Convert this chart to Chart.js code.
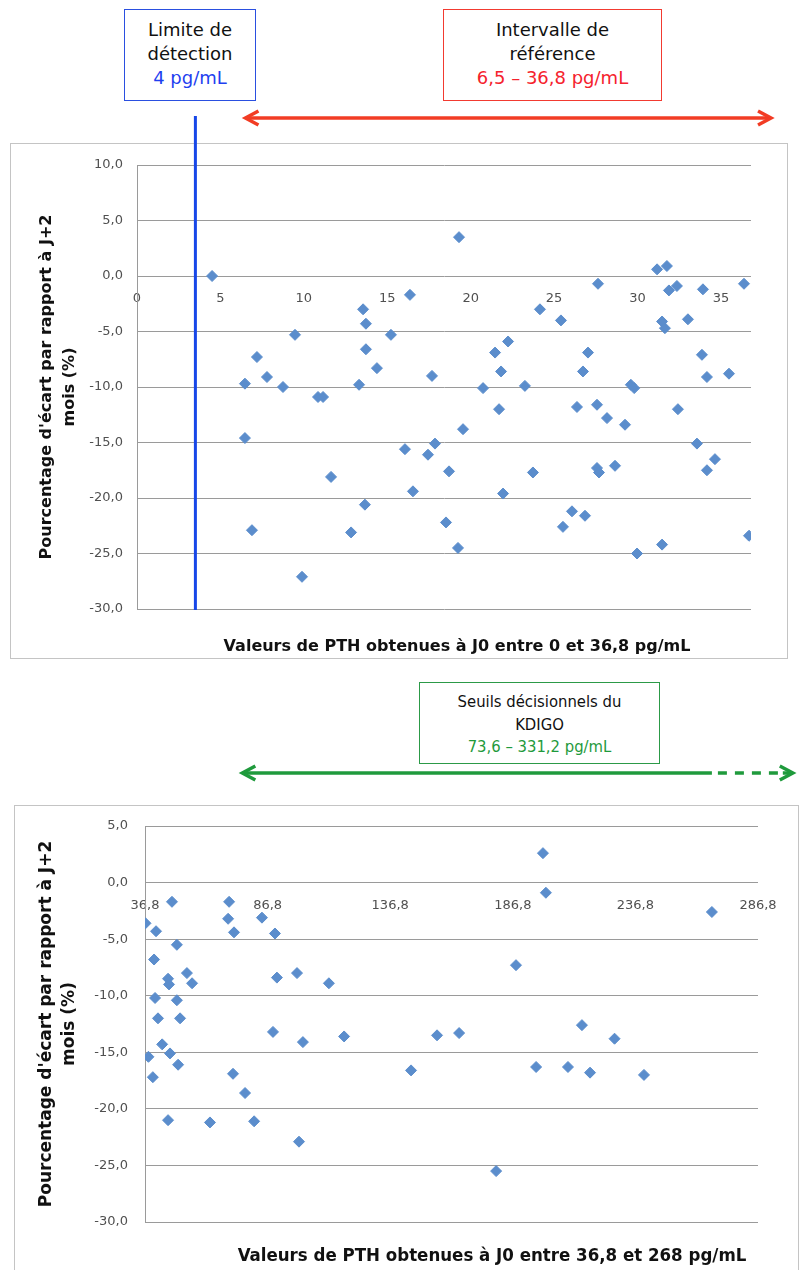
<!DOCTYPE html>
<html><head><meta charset="utf-8">
<script src="https://cdn.jsdelivr.net/npm/chart.js@4/dist/chart.umd.min.js"></script>
<style>
body{margin:0;background:#fff;width:808px;height:1270px;position:relative;overflow:hidden;font-family:"DejaVu Sans",sans-serif}
.frame{position:absolute;border:1px solid #c4c4c4;box-sizing:border-box;background:#fff}
.note{position:absolute;box-sizing:border-box;text-align:center;background:#fff;color:#111;white-space:nowrap}
.n1{font-size:18px;line-height:24px;padding-top:8px}
.n2{font-family:"DejaVu Sans Condensed","DejaVu Sans",sans-serif;font-size:16.5px;line-height:22.5px;padding-top:8px}
canvas{position:absolute;left:0}
.xt{position:absolute;font-weight:bold;white-space:nowrap;color:#111;transform:translateX(-50%);line-height:20px}
</style></head>
<body>
<div class="frame" style="left:10px;top:143px;width:778px;height:516px"></div>
<div class="frame" style="left:14px;top:805px;width:785px;height:480px"></div>
<canvas id="c1" width="808" height="670" style="top:0"></canvas>
<canvas id="c2" width="808" height="600" style="top:670px"></canvas>

<div class="note n1" style="left:124px;top:9px;width:132px;height:92px;border:1.5px solid #2a4fe0">Limite de<br>détection<br><span style="color:#1f3ff0">4 pg/mL</span></div>
<div class="note n1" style="left:443px;top:9px;width:219px;height:92px;border:1.5px solid #f23a30">Intervalle de<br>référence<br><span style="color:#f5222d">6,5 – 36,8 pg/mL</span></div>
<div class="note n2" style="left:419px;top:682px;width:241px;height:82px;border:1.5px solid #2c9a48">Seuils décisionnels du<br>KDIGO<br><span style="color:#1f9a3c">73,6 – 331,2 pg/mL</span></div>

<div class="xt" style="left:457px;top:636px;font-size:16px">Valeurs de PTH obtenues à J0 entre 0 et 36,8 pg/mL</div>
<div class="xt" style="left:492px;top:1245px;font-size:18.5px;font-family:'DejaVu Sans Condensed','DejaVu Sans',sans-serif">Valeurs de PTH obtenues à J0 entre 36,8 et 268 pg/mL</div>

<script>
// ---------- DATA ----------
const yTitle = ["Pourcentage d'écart par rapport à J+2", "mois (%)"];

// Chart 1: PTH 0 – 36,8 pg/mL
const pth1 = [4.5, 6.47, 6.47, 6.89, 7.19, 7.79, 8.75, 9.47, 9.89, 10.85, 11.15, 11.63, 12.83, 13.31, 13.55, 13.72, 13.72, 13.66, 14.38, 15.22,
  16.36, 19.3, 17.68, 20.74, 21.46, 21.82, 22.24, 23.25, 24.15, 25.41, 27.63, 27.03, 26.73, 29.6, 29.8, 31.17, 31.76, 31.88, 32.36, 31.47,
  31.64, 33.02, 33.92, 36.38, 33.86, 34.16, 35.48, 21.7, 19.54, 26.37, 27.57, 28.17, 29.25, 32.42, 16.06, 17.44, 17.86, 18.7, 23.73, 27.57,
  27.69, 28.65, 33.56, 34.64, 34.16, 16.54, 21.94, 18.52, 19.24, 26.07, 26.85, 25.53, 29.97, 31.47, 36.68];
const ecart1 = [0.0, -9.7, -14.6, -22.9, -7.3, -9.1, -10.0, -5.3, -27.1, -10.9, -10.9, -18.1, -23.1, -9.8, -3.0, -4.3, -6.6, -20.6, -8.3, -5.3,
  -1.7, 3.5, -9.0, -10.1, -6.9, -8.6, -5.9, -9.9, -3.0, -4.0, -0.7, -6.9, -8.6, -9.8, -10.1, 0.6, 0.9, -1.3, -0.9, -4.1,
  -4.7, -3.9, -1.2, -0.7, -7.1, -9.1, -8.8, -12.0, -13.8, -11.8, -11.6, -12.8, -13.4, -12.0, -15.6, -16.1, -15.1, -17.6, -17.7, -17.3,
  -17.7, -17.1, -15.1, -16.5, -17.5, -19.4, -19.6, -22.2, -24.5, -21.2, -21.6, -22.6, -25.0, -24.2, -23.4];
const xTicks1 = [0, 5, 10, 15, 20, 25, 30, 35];
const yTicks1 = [10, 5, 0, -5, -10, -15, -20, -25, -30];
const xRange1 = [0, 36.8];
const detectionLimitX = 3.5;
const referenceArrowX = [6.5, 38];

// Chart 2: PTH 36,8 – 268 pg/mL
const pth2 = [37.0, 41.3, 47.8, 49.8, 40.5, 46.2, 46.6, 53.9, 56.0, 40.9, 49.8, 42.1, 51.1, 71.1, 70.7, 73.1, 84.5, 89.8, 90.6, 98.8,
  111.8, 89.0, 101.2, 118.0, 38.2, 40.0, 43.8, 47.0, 50.3, 46.2, 63.3, 72.7, 77.6, 81.3, 99.6, 145.3, 155.9, 164.9, 180.0, 196.3,
  209.3, 218.3, 228.3, 240.3, 215.0, 199.1, 200.3, 268.0, 188.1];
const ecart2 = [-3.6, -4.3, -1.7, -5.5, -6.8, -8.5, -9.0, -8.0, -8.9, -10.2, -10.4, -12.0, -12.0, -1.7, -3.2, -4.4, -3.1, -4.5, -8.4, -8.0,
  -8.9, -13.2, -14.1, -13.6, -15.4, -17.2, -14.3, -15.1, -16.1, -21.0, -21.2, -16.9, -18.6, -21.1, -22.9, -16.6, -13.5, -13.3, -25.5, -16.3,
  -16.3, -16.8, -13.8, -17.0, -12.6, 2.6, -0.9, -2.6, -7.3];
const xTicks2 = [36.8, 86.8, 136.8, 186.8, 236.8, 286.8];
const yTicks2 = [5, 0, -5, -10, -15, -20, -25, -30];
const xRange2 = [36.8, 286.8];
const kdigoArrowX = [76.5, 268, 301];

// ---------- STYLE ----------
const markerColor = '#5b8dcc';
const gridColor = '#9a9a9a';
const tickColor = '#505050';
const fmt = v => v.toFixed(1).replace('.', ',');

function drawHead(ctx, x, y, dir) {
  ctx.beginPath();
  ctx.moveTo(x - dir * 13, y - 7);
  ctx.lineTo(x, y);
  ctx.lineTo(x - dir * 13, y + 7);
  ctx.stroke();
}
function drawArrow(ctx, x1, x2, y, color, dashFrom) {
  ctx.save();
  ctx.strokeStyle = color; ctx.lineWidth = 3.5; ctx.lineJoin = 'miter'; ctx.lineCap = 'butt';
  const solidEnd = dashFrom == null ? x2 : dashFrom;
  ctx.beginPath(); ctx.moveTo(x1 + 1, y); ctx.lineTo(solidEnd, y); ctx.stroke();
  if (dashFrom != null) {
    ctx.setLineDash([9, 8]);
    ctx.beginPath(); ctx.moveTo(dashFrom + 6, y); ctx.lineTo(x2 - 10, y); ctx.stroke();
    ctx.setLineDash([]);
    ctx.beginPath(); ctx.moveTo(x2 - 10, y); ctx.lineTo(x2 - 1, y); ctx.stroke();
  }
  drawHead(ctx, x1, y, -1);
  drawHead(ctx, x2, y, 1);
  ctx.restore();
}

const annot1 = {
  id: 'annot1',
  afterDatasetsDraw(chart) {
    const {ctx, scales: {x}, chartArea} = chart;
    ctx.save();
    const bx = x.getPixelForValue(detectionLimitX);
    ctx.strokeStyle = '#1747e8'; ctx.lineWidth = 3;
    ctx.beginPath(); ctx.moveTo(bx, 116); ctx.lineTo(bx, chartArea.bottom + 1); ctx.stroke();
    ctx.restore();
    drawArrow(ctx, x.getPixelForValue(referenceArrowX[0]), x.getPixelForValue(referenceArrowX[1]), 118, '#f23c24', null);
  }
};
const annot2 = {
  id: 'annot2',
  afterDatasetsDraw(chart) {
    const {ctx, scales: {x}} = chart;
    drawArrow(ctx, x.getPixelForValue(kdigoArrowX[0]), x.getPixelForValue(kdigoArrowX[2]), 103, '#1f9a3c', x.getPixelForValue(kdigoArrowX[1]));
  }
};

function makeChart(id, xs, ys, xTicks, yTicks, xRange, yWidth, titleSize, titleLH, yTitlePad, yTickPad, padding, plugin) {
  return new Chart(document.getElementById(id), {
    type: 'scatter',
    data: { datasets: [{
      data: xs.map((v, i) => ({x: v, y: ys[i]})),
      pointStyle: 'rectRot', pointRadius: 5.5, pointHoverRadius: 5.5,
      backgroundColor: markerColor, borderColor: markerColor, borderWidth: 1
    }]},
    options: {
      responsive: false, animation: false, devicePixelRatio: 1,
      layout: { padding },
      plugins: { legend: {display: false}, tooltip: {enabled: false} },
      scales: {
        x: {
          type: 'linear', position: {y: 0}, min: xRange[0], max: xRange[1],
          afterBuildTicks: s => { s.ticks = xTicks.map(v => ({value: v})); },
          grid: {display: false, drawTicks: false}, border: {display: false},
          ticks: { padding: 15, color: tickColor, font: {family: 'DejaVu Sans', size: 13}, maxRotation: 0, autoSkip: false,
                   callback: v => (Number.isInteger(v) ? String(v) : fmt(v)) }
        },
        y: {
          type: 'linear', position: 'left', min: yTicks[yTicks.length - 1], max: yTicks[0],
          afterBuildTicks: s => { s.ticks = yTicks.slice().reverse().map(v => ({value: v})); },
          afterFit: s => { s.width = yWidth; },
          grid: {color: gridColor, lineWidth: 1, drawTicks: false},
          border: {display: true, color: gridColor, width: 1},
          ticks: { padding: yTickPad, color: tickColor, font: {family: 'DejaVu Sans', size: 13}, callback: v => fmt(v) },
          title: { display: true, text: yTitle, color: '#111', padding: {top: yTitlePad, bottom: 0},
                   font: {family: 'DejaVu Sans', size: titleSize, weight: 'bold', lineHeight: titleLH} }
        }
      }
    },
    plugins: [plugin]
  });
}

makeChart('c1', pth1, ecart1, xTicks1, yTicks1, xRange1, 117, 16, 1.45, 15, 14, {left: 20, right: 57, top: 165, bottom: 61}, annot1);
makeChart('c2', pth2, ecart2, xTicks2, yTicks2, xRange2, 125, 17, 1.36, 15, 17, {left: 20, right: 50, top: 156, bottom: 48}, annot2);
</script>
</body></html>
